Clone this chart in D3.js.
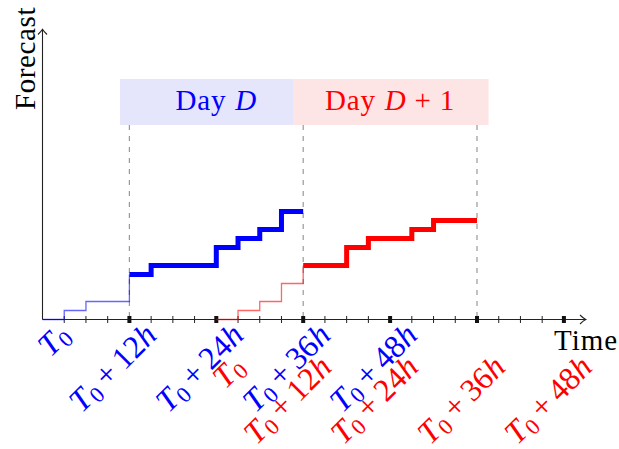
<!DOCTYPE html>
<html><head><meta charset="utf-8">
<script src="https://cdn.jsdelivr.net/npm/d3@7"></script>
<style>body{margin:0;background:#fff}svg{display:block}</style>
</head><body>
<svg id="c" width="619" height="449"></svg>
<script>
// ---- data (hours from blue T0, forecast level) ----
const blueThinHours  = [0, 3, 6, 12, 12];
const blueThinValues = [0, 1, 2, 2, 5];
const blueThickHours  = [12, 15, 24, 27, 30, 33, 36];
const blueThickValues = [5, 6, 8, 9, 10, 12, 12];
const redThinHours  = [24, 27, 30, 33, 36, 36];
const redThinValues = [0, 1, 2, 4, 4, 6];
const redThickHours  = [36, 42, 45, 51, 54, 60];
const redThickValues = [6, 8, 9, 10, 11, 11];
const blueLabelHours = [0, 12, 24, 36, 48];
const blueLabels = ["", "12", "24", "36", "48"];
const redLabelHours = [24, 36, 48, 60, 72];
const redLabels = ["", "12", "24", "36", "48"];
const majorTickHours = [12, 24, 36, 48, 60, 72];
const dashedHours = [12, 36, 60];
const dayBoxes = [
  {from: 10.7, to: 34.7, center: 24, name: "D", suffix: "", color: "#0000ff", fill: "#e5e5fc"},
  {from: 34.7, to: 61.6, center: 48, name: "D", suffix: "+ 1", color: "#ff0000", fill: "#fde5e5"}
];

const svg = d3.select("#c");
const FONT = "'Liberation Serif', 'Times New Roman', serif";
const x = d3.scaleLinear().domain([0, 72]).range([42.5, 563.9]);
const y = d3.scaleLinear().domain([0, 12]).range([319.5, 211.5]);
const y0 = y(0);

// day boxes
dayBoxes.forEach(b => {
  svg.append("rect").attr("x", x(b.from)).attr("y", 79)
    .attr("width", x(b.to) - x(b.from)).attr("height", 46).attr("fill", b.fill);
  const t = svg.append("text").attr("x", x(b.center)).attr("y", 110)
    .attr("text-anchor", "middle").attr("fill", b.color)
    .style("font-family", FONT).style("font-size", "29px").style("letter-spacing", "0.8px");
  t.append("tspan").text("Day");
  t.append("tspan").attr("dx", 9).style("font-style", "italic").text(b.name);
  if (b.suffix) t.append("tspan").attr("dx", 8).text(b.suffix);
});

// dashed lines
svg.selectAll("line.dash").data(dashedHours).join("line").attr("class", "dash")
  .attr("x1", d => x(d)).attr("x2", d => x(d)).attr("y1", 125).attr("y2", y0)
  .attr("stroke", "#999").attr("stroke-width", 1.2).attr("stroke-dasharray", "5,6");

// axes
svg.append("line").attr("x1", x(0)).attr("x2", 585).attr("y1", y0).attr("y2", y0)
  .attr("stroke", "#222").attr("stroke-width", 1.1);
svg.append("path").attr("d", `M580,315 Q583.5,318.5 585.8,${y0} Q583.5,320.5 580,324`)
  .attr("fill", "none").attr("stroke", "#222").attr("stroke-width", 1.1);
svg.append("line").attr("x1", x(0)).attr("x2", x(0)).attr("y1", y0).attr("y2", 29.5)
  .attr("stroke", "#222").attr("stroke-width", 1.1);
svg.append("path").attr("d", `M${x(0)-4.5},34.5 Q${x(0)-1},31 ${x(0)},29.3 Q${x(0)+1},31 ${x(0)+4.5},34.5`)
  .attr("fill", "none").attr("stroke", "#222").attr("stroke-width", 1.1);

// ticks
svg.selectAll("line.minor").data(d3.range(3, 73, 3).filter(h => h % 12 !== 0)).join("line")
  .attr("class", "minor").attr("x1", d => x(d)).attr("x2", d => x(d))
  .attr("y1", y0 - 3.5).attr("y2", y0 + 3.5).attr("stroke", "#222").attr("stroke-width", 1);
svg.selectAll("rect.major").data(majorTickHours).join("rect").attr("class", "major")
  .attr("x", d => x(d) - 2).attr("width", 4).attr("y", y0 - 3.5).attr("height", 7).attr("fill", "#111");

// step lines
const stepLine = d3.line().curve(d3.curveStepAfter).x(d => x(d[0])).y(d => y(d[1]));
function drawStep(hours, values, color, width, opacity) {
  svg.append("path").datum(hours.map((h, i) => [h, values[i]]))
    .attr("d", stepLine).attr("fill", "none").attr("stroke", color)
    .attr("stroke-width", width).attr("stroke-opacity", opacity)
    .attr("stroke-linejoin", "miter").attr("stroke-linecap", "butt");
}
drawStep(blueThinHours, blueThinValues, "#0000ff", 1.3, 0.6);
drawStep(redThinHours, redThinValues, "#ff0000", 1.3, 0.6);
drawStep(blueThickHours, blueThickValues, "#0000ff", 5, 1);
drawStep(redThickHours, redThickValues, "#ff0000", 5, 1);

// tick labels (rotated 45deg, anchored at their end)
const FS = 32;
function label(h, num, color, dx, dy) {
  const g = svg.append("text")
    .attr("transform", `translate(${x(h) + dx},${dy}) rotate(-45)`)
    .attr("text-anchor", "end").attr("fill", color)
    .style("font-family", FONT).style("font-size", FS + "px");
  const sub = FS * 0.15;
  g.append("tspan").style("font-style", "italic").text("T");
  g.append("tspan").attr("dy", sub).attr("dx", FS * 0.02).style("font-size", (FS * 0.7) + "px").text("0");
  if (num) {
    g.append("tspan").attr("dy", -sub).attr("dx", FS * 0.2).text("+");
    g.append("tspan").attr("dx", FS * 0.2).text(num);
    g.append("tspan").style("font-style", "italic").text("h");
  }
}
blueLabelHours.forEach((h, i) => label(h, blueLabels[i], "#0000ff", 29, 337));
redLabelHours.forEach((h, i) => label(h, redLabels[i], "#ff0000", 30, 369));

// axis titles
svg.append("text").attr("transform", "translate(35,110) rotate(-90)")
  .style("font-family", FONT).style("font-size", "29px").style("letter-spacing", "0.6px")
  .attr("fill", "#000").text("Forecast");
svg.append("text").attr("x", 554).attr("y", 350)
  .style("font-family", FONT).style("font-size", "29px").style("letter-spacing", "1px")
  .attr("fill", "#000").text("Time");
</script>
</body></html>
